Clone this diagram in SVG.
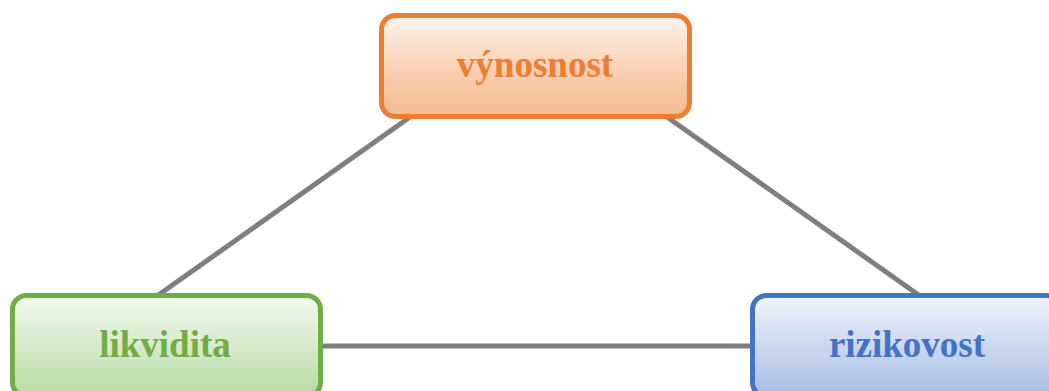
<svg xmlns="http://www.w3.org/2000/svg" width="1049" height="391" viewBox="0 0 1049 391">
<style>
.box{stroke-width:5}
.lbl{font-family:"Liberation Serif","Times New Roman",serif;font-weight:bold;font-size:37px;text-anchor:middle}
.conn{stroke:#7f7f7f;stroke-width:5;fill:none}
</style>
<defs>
<linearGradient id="gO" x1="0" y1="0" x2="0" y2="1"><stop offset="0" stop-color="#fef4ef"/><stop offset="0.55" stop-color="#f8cfb2"/><stop offset="1" stop-color="#f5bb91"/></linearGradient>
<linearGradient id="gG" x1="0" y1="0" x2="0" y2="1"><stop offset="0" stop-color="#f3f9f0"/><stop offset="0.55" stop-color="#d3e8c5"/><stop offset="1" stop-color="#b9daa3"/></linearGradient>
<linearGradient id="gB" x1="0" y1="0" x2="0" y2="1"><stop offset="0" stop-color="#f1f4fb"/><stop offset="0.55" stop-color="#c8d5ee"/><stop offset="1" stop-color="#a6bce3"/></linearGradient>
</defs>
<g id="connectors">
<line class="conn" x1="410" y1="117" x2="157" y2="296"/>
<line class="conn" x1="667" y1="117" x2="920" y2="296"/>
<line class="conn" x1="320" y1="346" x2="752" y2="346"/>
</g>
<g id="vynosnost">
<rect class="box" x="381.5" y="15.5" width="308" height="101" rx="14" fill="url(#gO)" stroke="#ed7d31"/>
<text class="lbl" x="535" y="77" fill="#ed7d31">výnosnost</text>
</g>
<g id="likvidita">
<rect class="box" x="12.5" y="295.5" width="308" height="101" rx="14" fill="url(#gG)" stroke="#70ad47"/>
<text class="lbl" x="165" y="357" fill="#70ad47">likvidita</text>
</g>
<g id="rizikovost">
<rect class="box" x="752.5" y="295.5" width="308" height="101" rx="14" fill="url(#gB)" stroke="#4472c4"/>
<text class="lbl" x="907" y="357" fill="#4472c4">rizikovost</text>
</g>
</svg>
